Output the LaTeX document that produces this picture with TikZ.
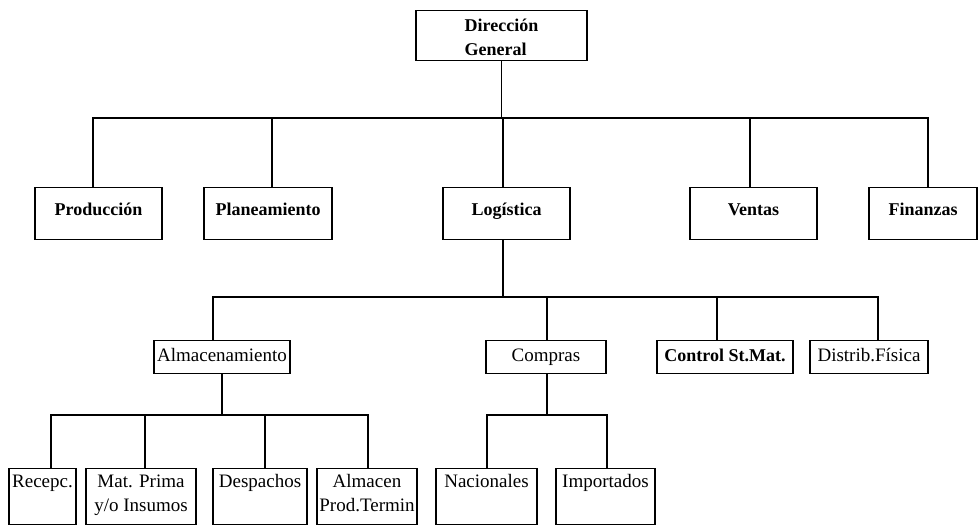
\documentclass[tikz,border=0pt]{standalone}
\usepackage{fontspec}
\setmainfont{Liberation Serif}

\begin{document}
\begin{tikzpicture}[x=1pt, y=-1pt, line width=1.1pt,
    caja/.style={draw, anchor=north, inner ysep=0pt, inner xsep=2pt},
    nivelcero/.style={caja, font=\fontsize{18}{24}\selectfont\bfseries, align=left, text height=45pt, text depth=5pt},
    niveluno/.style={caja, font=\fontsize{18}{22}\selectfont\bfseries, text height=28pt, text depth=24pt},
    niveldos/.style={caja, font=\fontsize{19}{22}\selectfont, text height=21pt, text depth=12pt},
    niveltres/.style={caja, font=\fontsize{19}{24}\selectfont, align=center, text height=43pt, text depth=13pt}]
      \useasboundingbox (0,0) rectangle (979,526);

      % Dirección
      \node[nivelcero, minimum width=171pt] (dir) at (501.5,10) {Dirección\\General};

      % Primer nivel
      \node[niveluno, minimum width=127pt] (prod) at (98.5,187) {Producción};
      \node[niveluno, minimum width=128pt] (plan) at (268,187) {Planeamiento};
      \node[niveluno, minimum width=127pt] (log) at (506.5,187) {Logística};
      \node[niveluno, minimum width=127pt] (vent) at (753.5,187) {Ventas};
      \node[niveluno, minimum width=108pt] (fin) at (923,187) {Finanzas};

      % Segundo nivel
      \node[niveldos, minimum width=136pt] (alm) at (222,340) {Almacenamiento};
      \node[niveldos, minimum width=120pt] (comp) at (546,340) {Compras};
      \node[niveldos, minimum width=136pt, font=\fontsize{18}{22}\selectfont\bfseries] (ctrl) at (725,340) {Control St.Mat.};
      \node[niveldos, minimum width=118pt] (dist) at (869,340) {Distrib.Física};

      % Tercer nivel
      \node[niveltres, minimum width=67pt] (rec) at (42.5,468) {Recepc.\\\mbox{}};
      \node[niveltres, minimum width=110pt] (mat) at (141,468) {Mat. Prima\\y/o Insumos};
      \node[niveltres, minimum width=94pt] (desp) at (260,468) {Despachos\\\mbox{}};
      \node[niveltres, minimum width=100pt] (almp) at (367,468) {Almacen\\Prod.Termin};
      \node[niveltres, minimum width=101pt] (nac) at (486.5,468) {Nacionales\\\mbox{}};
      \node[niveltres, minimum width=99pt] (imp) at (605.5,468) {Importados\\\mbox{}};

      % Conexiones
      \coordinate (busuno) at (501.5,118);
      \draw (dir.south) -- (busuno);
      \foreach \n/\dx in {prod/-5.5, plan/4, log/-3.5, vent/-3.5, fin/5}
        \draw (busuno) -| ([xshift=\dx pt]\n.north);

      \coordinate (busdos) at (503,297);
      \draw ([xshift=-3.5pt]log.south) -- (busdos);
      \foreach \n/\dx in {alm/-9, comp/1, ctrl/-8, dist/9}
        \draw (busdos) -| ([xshift=\dx pt]\n.north);

      \coordinate (bustres) at (222,415);
      \draw (alm.south) -- (bustres);
      \foreach \n/\dx in {rec/8.5, mat/4, desp/5, almp/1}
        \draw (bustres) -| ([xshift=\dx pt]\n.north);

      \coordinate (buscuatro) at (547,415);
      \draw ([xshift=1pt]comp.south) -- (buscuatro);
      \foreach \n/\dx in {nac/0.5, imp/1.5}
        \draw (buscuatro) -| ([xshift=\dx pt]\n.north);
\end{tikzpicture}
\end{document}
